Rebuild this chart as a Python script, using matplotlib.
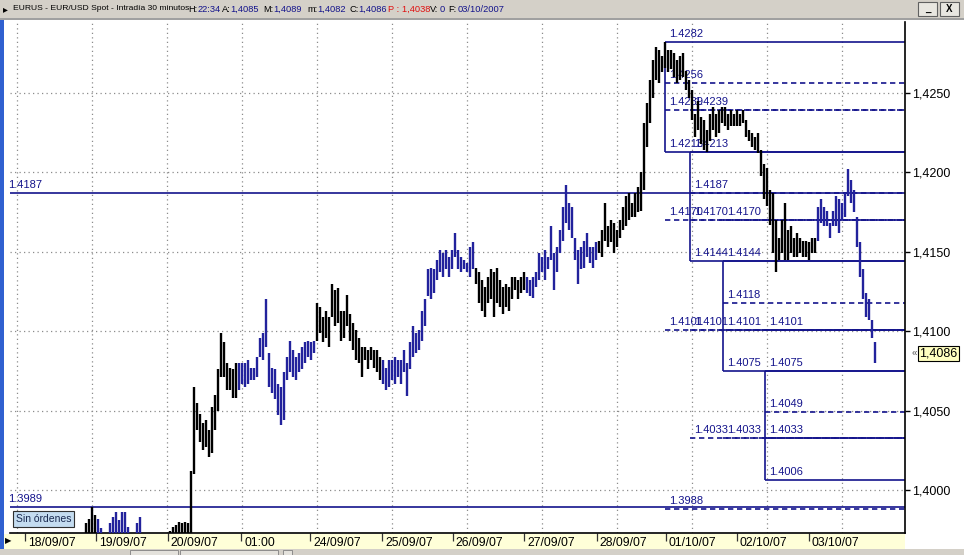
import matplotlib
matplotlib.use('Agg')
import matplotlib.pyplot as plt
import matplotlib.transforms as mtrans
from matplotlib.patches import Rectangle
import numpy as np

plt.rcParams['font.family'] = ['Liberation Sans', 'DejaVu Sans']

# ---------------- data (30-min bars) ----------------
bar_high = [
    1.3979, 1.3982, 1.3989, 1.3984, 1.3982, 1.3976, 1.3970, 1.3972, 1.3979, 1.3983,
    1.3986, 1.3981, 1.3986, 1.3986, 1.3977, 1.3970, 1.3968, 1.3979, 1.3983, 1.3972,
    1.3967, 1.3964, 1.3965, 1.3962, 1.3964, 1.3966, 1.3968, 1.3970, 1.3974, 1.3977,
    1.3978, 1.3980, 1.3979, 1.3980, 1.3979, 1.4012, 1.4065, 1.4055, 1.4048, 1.4042,
    1.4044, 1.4038, 1.4052, 1.4060, 1.4076, 1.4099, 1.4093, 1.4080, 1.4077, 1.4076,
    1.4080, 1.4080, 1.4080, 1.4080, 1.4082, 1.4077, 1.4077, 1.4084, 1.4096, 1.4099,
    1.4120, 1.4086, 1.4077, 1.4076, 1.4067, 1.4065, 1.4074, 1.4084, 1.4094, 1.4088,
    1.4084, 1.4086, 1.4090, 1.4093, 1.4094, 1.4093, 1.4094, 1.4118, 1.4115, 1.4109,
    1.4113, 1.4109, 1.4130, 1.4126, 1.4127, 1.4113, 1.4113, 1.4123, 1.4111, 1.4105,
    1.4101, 1.4096, 1.4090, 1.4090, 1.4088, 1.4090, 1.4088, 1.4088, 1.4084, 1.4082,
    1.4077, 1.4082, 1.4082, 1.4084, 1.4082, 1.4082, 1.4088, 1.4080, 1.4093, 1.4103,
    1.4099, 1.4101, 1.4113, 1.4120, 1.4139, 1.4140, 1.4139, 1.4145, 1.4151, 1.4149,
    1.4151, 1.4147, 1.4151, 1.4162, 1.4151, 1.4147, 1.4145, 1.4143, 1.4153, 1.4156,
    1.4140, 1.4137, 1.4132, 1.4128, 1.4134, 1.4139, 1.4137, 1.4140, 1.4132, 1.4128,
    1.4130, 1.4128, 1.4134, 1.4134, 1.4132, 1.4134, 1.4137, 1.4134, 1.4132, 1.4134,
    1.4137, 1.4149, 1.4147, 1.4151, 1.4147, 1.4166, 1.4149, 1.4153, 1.4164, 1.4178,
    1.4192, 1.4181, 1.4178, 1.4159, 1.4151, 1.4153, 1.4157, 1.4162, 1.4153, 1.4153,
    1.4156, 1.4157, 1.4164, 1.4181, 1.4166, 1.4170, 1.4168, 1.4164, 1.4170, 1.4178,
    1.4185, 1.4187, 1.4181, 1.4187, 1.4191, 1.4200, 1.4231, 1.4244, 1.4258, 1.4271,
    1.4279, 1.4277, 1.4273, 1.4282, 1.4277, 1.4277, 1.4275, 1.4271, 1.4273, 1.4275,
    1.4264, 1.4258, 1.4252, 1.4237, 1.4245, 1.4235, 1.4233, 1.4227, 1.4237, 1.4241,
    1.4237, 1.4239, 1.4241, 1.4241, 1.4237, 1.4239, 1.4237, 1.4239, 1.4237, 1.4239,
    1.4233, 1.4227, 1.4225, 1.4222, 1.4225, 1.4214, 1.4205, 1.4203, 1.4189, 1.4187,
    1.4170, 1.4159, 1.4170, 1.4181, 1.4164, 1.4166, 1.4159, 1.4162, 1.4159, 1.4157,
    1.4157, 1.4156, 1.4159, 1.4159, 1.4178, 1.4183, 1.4178, 1.4176, 1.4168, 1.4176,
    1.4185, 1.4183, 1.4181, 1.4187, 1.4202, 1.4195, 1.4189, 1.4172, 1.4156, 1.4139,
    1.4124, 1.4120, 1.4107, 1.4093,
]
bar_low = [
    1.3962, 1.3964, 1.3966, 1.3965, 1.3963, 1.3961, 1.3958, 1.3960, 1.3964, 1.3966,
    1.3968, 1.3965, 1.3967, 1.3970, 1.3962, 1.3959, 1.3956, 1.3964, 1.3967, 1.3960,
    1.3955, 1.3952, 1.3953, 1.3950, 1.3952, 1.3954, 1.3956, 1.3958, 1.3962, 1.3965,
    1.3967, 1.3968, 1.3967, 1.3969, 1.3968, 1.3965, 1.4010, 1.4038, 1.4030, 1.4025,
    1.4027, 1.4021, 1.4023, 1.4038, 1.4050, 1.4071, 1.4071, 1.4063, 1.4063, 1.4058,
    1.4058, 1.4063, 1.4067, 1.4065, 1.4067, 1.4069, 1.4069, 1.4071, 1.4084, 1.4082,
    1.4090, 1.4065, 1.4061, 1.4057, 1.4047, 1.4041, 1.4044, 1.4069, 1.4074, 1.4071,
    1.4069, 1.4074, 1.4076, 1.4080, 1.4084, 1.4082, 1.4086, 1.4094, 1.4099, 1.4093,
    1.4096, 1.4090, 1.4109, 1.4103, 1.4105, 1.4094, 1.4096, 1.4103, 1.4094, 1.4088,
    1.4082, 1.4080, 1.4071, 1.4082, 1.4076, 1.4082, 1.4077, 1.4074, 1.4069, 1.4067,
    1.4063, 1.4065, 1.4069, 1.4067, 1.4071, 1.4067, 1.4074, 1.4059, 1.4076, 1.4084,
    1.4086, 1.4088, 1.4094, 1.4103, 1.4122, 1.4120, 1.4124, 1.4132, 1.4137, 1.4134,
    1.4139, 1.4134, 1.4139, 1.4147, 1.4139, 1.4137, 1.4139, 1.4137, 1.4134, 1.4139,
    1.4130, 1.4118, 1.4113, 1.4109, 1.4118, 1.4120, 1.4109, 1.4118, 1.4115, 1.4111,
    1.4115, 1.4113, 1.4120, 1.4126, 1.4120, 1.4124, 1.4126, 1.4124, 1.4122, 1.4121,
    1.4128, 1.4132, 1.4137, 1.4132, 1.4139, 1.4145, 1.4126, 1.4137, 1.4149, 1.4157,
    1.4168, 1.4164, 1.4159, 1.4145, 1.4130, 1.4139, 1.4140, 1.4147, 1.4143, 1.4140,
    1.4145, 1.4149, 1.4147, 1.4157, 1.4153, 1.4156, 1.4149, 1.4153, 1.4159, 1.4164,
    1.4166, 1.4170, 1.4172, 1.4172, 1.4175, 1.4176, 1.4189, 1.4216, 1.4231, 1.4247,
    1.4258, 1.4256, 1.4263, 1.4266, 1.4263, 1.4265, 1.4260, 1.4256, 1.4258, 1.4260,
    1.4252, 1.4247, 1.4233, 1.4222, 1.4227, 1.4218, 1.4214, 1.4213, 1.4220, 1.4227,
    1.4222, 1.4225, 1.4231, 1.4229, 1.4227, 1.4229, 1.4229, 1.4229, 1.4229, 1.4231,
    1.4222, 1.4220, 1.4216, 1.4214, 1.4212, 1.4198, 1.4183, 1.4179, 1.4167, 1.4149,
    1.4137, 1.4145, 1.4149, 1.4145, 1.4145, 1.4149, 1.4147, 1.4147, 1.4149, 1.4147,
    1.4147, 1.4145, 1.4149, 1.4149, 1.4157, 1.4168, 1.4166, 1.4166, 1.4159, 1.4166,
    1.4166, 1.4162, 1.4170, 1.4172, 1.4185, 1.4181, 1.4175, 1.4153, 1.4134, 1.4120,
    1.4109, 1.4107, 1.4096, 1.4080,
]
# bar colour runs: (colour code, number of bars)
color_runs = [('k', 4), ('b', 2), ('k', 2), ('b', 7), ('k', 2), ('b', 2), ('k', 9),
              ('k', 8), ('k', 15), ('b', 26), ('k', 22), ('b', 31), ('k', 17),
              ('b', 24), ('k', 73), ('b', 20)]

# x-axis date labels and their bar positions
tick_pos = [-20.3, 3.3, 27.3, 51.7, 74.7, 98.7, 122.3, 146.0, 170.3, 193.3, 217.0, 241.0]
tick_labels = ['18/09/07', '19/09/07', '20/09/07', '01:00', '24/09/07', '25/09/07',
               '26/09/07', '27/09/07', '28/09/07', '01/10/07', '02/10/07', '03/10/07']

price_ticks = [1.4000, 1.4050, 1.4100, 1.4150, 1.4200, 1.4250]

# horizontal user lines
hlines_vals = [1.4187, 1.3989]

# Fibonacci retracement boxes: anchor bar, top, bottom
fib_anchor = [193.0, 201.3, 212.3, 226.3]
fib_top = [1.4282, 1.4213, 1.4144, 1.4075]
fib_bottom = [1.4213, 1.4144, 1.4075, 1.4006]
fib_levels = [
    [1.4282, 1.4256, 1.4239, 1.4213, 1.4170, 1.4101, 1.3988],
    [1.4239, 1.4213, 1.4187, 1.4170, 1.4144, 1.4101, 1.4033],
    [1.4170, 1.4144, 1.4118, 1.4101, 1.4075, 1.4033],
    [1.4101, 1.4075, 1.4049, 1.4033, 1.4006],
]
fib_dashed = [
    [0, 1, 1, 0, 1, 1, 1],
    [1, 0, 1, 1, 0, 1, 1],
    [1, 0, 1, 0, 0, 1],
    [0, 0, 1, 0, 0],
]
last_price = 1.4086

# ---------------- figure ----------------
W, H = 964, 555
fig = plt.figure(figsize=(W / 100, H / 100), dpi=100)
fig.patch.set_facecolor('white')

def fx(px):
    return px / W

def fy(py):
    return 1 - py / H

NAVY = '#14148c'
BLUEBAR = '#22229c'
GRID = '#8c8c8c'

ax = fig.add_axes([fx(10), fy(533), fx(905) - fx(10), fy(22) - fy(533)])
ax.set_zorder(2)
ax.set_xlim(-25.33, 273.0)
ax.set_ylim(1.397292, 1.429471)
ax.set_facecolor('white')

# grid (dotted)
for gx in np.arange(-23, 273, 25):
    ax.axvline(gx, color=GRID, lw=0.9, ls=(0, (1, 2.6)), zorder=0)
for gy in price_ticks:
    ax.axhline(gy, color=GRID, lw=0.9, ls=(0, (1, 2.6)), zorder=0)

# bars
cols = []
for c, n in color_runs:
    cols += [('#000000' if c == 'k' else BLUEBAR)] * n
xs = np.arange(len(bar_high))
ax.vlines(xs, bar_low, bar_high, colors=cols, lw=1.7, zorder=4)

# long horizontal lines
for v in hlines_vals:
    ax.axhline(v, color=NAVY, lw=1.2, zorder=2)
    ax.text(0, v, f'{v:.4f}', transform=mtrans.offset_copy(
        mtrans.blended_transform_factory(ax.transAxes, ax.transData), fig=fig,
        x=-2, y=3, units='dots'), fontsize=8, color=NAVY, va='bottom', ha='left',
        clip_on=False, zorder=2)

# fib boxes
xr = ax.get_xlim()[1]
for k in range(4):
    a = fib_anchor[k]
    ax.vlines(a, fib_bottom[k], fib_top[k], colors=NAVY, lw=1.2, zorder=2)
    lab_tr = mtrans.offset_copy(ax.transData, fig=fig, x=4.5, y=3, units='dots')
    for v, d in zip(fib_levels[k], fib_dashed[k]):
        ax.hlines(v, a, xr, colors=NAVY, lw=1.2,
                  linestyles=(0, (3.2, 2.2)) if d else 'solid', zorder=2)
        ax.text(a, v, f'{v:.4f}', transform=lab_tr, fontsize=8, color=NAVY,
                va='bottom', ha='left', zorder=1)

# spines / right price axis
for s in ['top', 'left']:
    ax.spines[s].set_visible(False)
ax.spines['right'].set_linewidth(1.2)
ax.spines['bottom'].set_linewidth(1.2)
ax.yaxis.tick_right()
ax.set_yticks(price_ticks)
ax.set_yticklabels([f'{p:.4f}'.replace('.', ',') for p in price_ticks])
ax.tick_params(axis='y', direction='out', length=3.5, width=1, pad=1.5,
               labelsize=9, colors='black')
ax.set_xticks(tick_pos)
ax.set_xticklabels([])
ax.tick_params(axis='x', direction='out', length=6, width=0.9, colors='#333333')

# x date labels
xt = mtrans.offset_copy(mtrans.blended_transform_factory(ax.transData, ax.transAxes),
                        fig=fig, x=3, y=-4, units='dots')
for p, l in zip(tick_pos, tick_labels):
    ax.text(p, 0, l, transform=xt, fontsize=8.8, va='top', ha='left',
            clip_on=False, zorder=6)

# last price tag
bt = mtrans.blended_transform_factory(ax.transAxes, ax.transData)
ax.text(1.0, last_price, f'{last_price:.4f}'.replace('.', ','),
        transform=mtrans.offset_copy(bt, fig=fig, x=14, y=0, units='dots'),
        fontsize=9, va='center', ha='left', clip_on=False,
        bbox=dict(boxstyle='square,pad=0.12', fc='#ffffc0', ec='black', lw=0.8))
ax.text(1.0, last_price, '«', transform=mtrans.offset_copy(bt, fig=fig, x=7, y=0, units='dots'),
        fontsize=7, va='center', ha='left', clip_on=False, color='#555555')

# ---------------- window chrome ----------------
def frect(x0, y0, x1, y1, **kw):
    fig.patches.append(Rectangle((fx(x0), fy(y1)), fx(x1) - fx(x0), fy(y0) - fy(y1),
                                 transform=fig.transFigure, **kw))

# title bar
frect(0, 0, W, 18, fc='#d4d0c8', ec='none', zorder=0)
frect(0, 18, W, 19.5, fc='#a0a0a0', ec='none', zorder=0)
fig.text(fx(3), fy(9), '▸', fontsize=7, va='center', ha='left', family=['DejaVu Sans'])
title_parts = [
    (13, 'EURUS - EUR/USD Spot - Intradía 30 minutos', 'black', 6.1),
    (188, 'H:', 'black', 6.7), (198, '22:34', NAVY, 6.7),
    (222, 'A:', 'black', 6.7), (230, '1,4085', NAVY, 6.7),
    (263, 'M:', 'black', 6.7), (273, '1,4089', NAVY, 6.7),
    (307, 'm:', 'black', 6.7), (317, '1,4082', NAVY, 6.7),
    (350, 'C:', 'black', 6.7), (358, '1,4086', NAVY, 6.7),
    (388, 'P : 1,4038', '#e01010', 6.7),
    (430, 'V:', 'black', 6.7), (440, '0', NAVY, 6.7),
    (448, 'F:', 'black', 6.7), (458, '03/10/2007', NAVY, 6.7),
]
for x, t, c, fs in title_parts:
    fig.text(fx(x), fy(9), t, color=c, fontsize=fs, va='center', ha='left')

# window buttons
for x0, lab in [(918, '_'), (940, 'X')]:
    frect(x0, 2, x0 + 19, 16, fc='#e8e6e0', ec='#606060', lw=0.8, zorder=1)
    fig.text(fx(x0 + 9.5), fy(9.5), lab, fontsize=7, ha='center', va='center',
             weight='bold')

# left blue border
frect(0, 19.5, 3.5, 549, fc='#3060d0', ec='none', zorder=1)

# bottom date band and scroll strip
frect(4, 534, 905, 549, fc='#ffffd8', ec='none', zorder=0)
frect(0, 549, W, H, fc='#d4d0c8', ec='none', zorder=0)
for x0, x1 in [(130, 178), (180, 278), (283, 292)]:
    frect(x0, 549.5, x1, H, fc='#e4e2dc', ec='#808080', lw=0.6, zorder=1)
fig.text(fx(5), fy(541), '▶', fontsize=6, va='center', ha='left', family=['DejaVu Sans'])

# "Sin órdenes" box
fig.text(fx(16), fy(519), 'Sin órdenes', fontsize=7.5, va='center', ha='left',
         color='#1a2a50', zorder=6,
         bbox=dict(boxstyle='square,pad=0.25', fc='#c4dcf0', ec='#303030', lw=0.8))

fig.savefig('out.png', dpi=100)
